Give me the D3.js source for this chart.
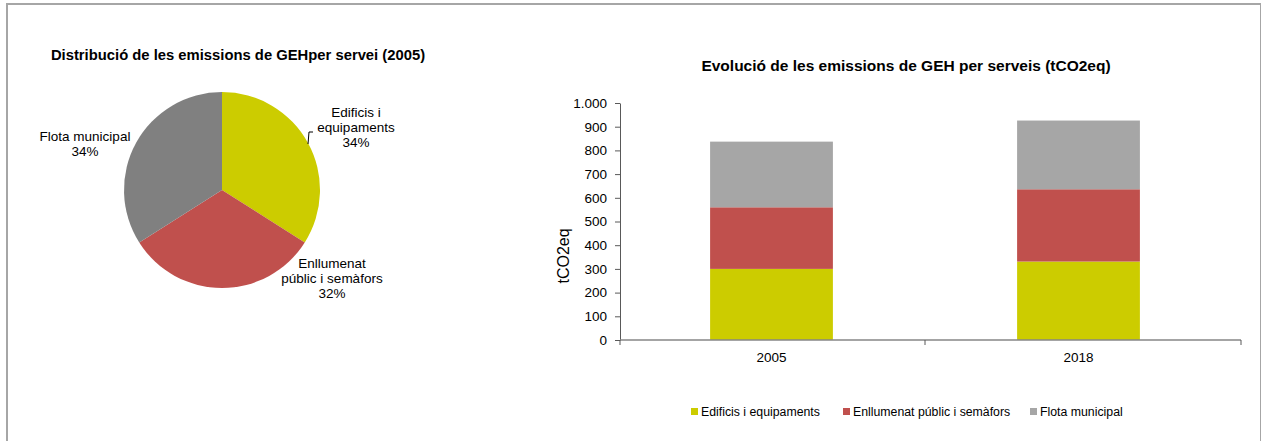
<!DOCTYPE html>
<meta charset='utf-8'>
<style>
body {
    margin: 0;
    background: #fff;
}

svg text {
    font-family: 'Liberation Sans', Arial, sans-serif;
    fill: #000;
}

.title {
    font-weight: bold;
}

.axis text {
    font-size: 13.5px;
}
</style>

<body>
    <div class='chart'></div>
    <script src='https://cdn.jsdelivr.net/npm/d3@7'></script>
    <script>
    // pie 2005
    var pieNames = ['Edificis i equipaments', 'Enllumenat públic i semàfors', 'Flota municipal'];
    var pieValues = [34, 32, 34];
    var pieColors = ['#cccc00', '#c0504d', '#808080'];

    // stacked bars
    var years = ['2005', '2018'];
    var edificis = [300, 331];
    var enllumenat = [260, 305];
    var flota = [277, 290];
    var barColors = ['#cccc00', '#c0504d', '#a6a6a6'];
    var yTicks = [0, 100, 200, 300, 400, 500, 600, 700, 800, 900, 1000];

    var width = 1261, height = 441;

    var svg = d3.select('.chart').append('svg')
        .attr('width', width)
        .attr('height', height);

    // frame
    svg.append('line').attr('x1', 7).attr('x2', 7).attr('y1', 3).attr('y2', height)
        .attr('stroke', '#a6a6a6').attr('stroke-width', 2);
    svg.append('line').attr('x1', 6).attr('x2', 1260).attr('y1', 4).attr('y2', 4)
        .attr('stroke', '#a6a6a6').attr('stroke-width', 2);
    svg.append('line').attr('x1', 1260.5).attr('x2', 1260.5).attr('y1', 3).attr('y2', height)
        .attr('stroke', '#a6a6a6').attr('stroke-width', 1);

    // ---- pie ----
    svg.append('text')
        .attr('class', 'title')
        .attr('x', 238).attr('y', 60)
        .attr('text-anchor', 'middle')
        .style('font-size', '14.8px')
        .text('Distribució de les emissions de GEHper servei (2005)');

    var pie = d3.pie().sort(null)(pieValues);
    var arc = d3.arc().innerRadius(0).outerRadius(98);

    var gp = svg.append('g').attr('transform', 'translate(222,190)');
    gp.selectAll('path')
        .data(pie)
        .enter().append('path')
        .attr('d', arc)
        .attr('fill', function(d, i) { return pieColors[i]; });

    var pieLabels = [
        {lines: ['Edificis i', 'equipaments', pieValues[0] + '%'], x: 356, y: 117},
        {lines: ['Enllumenat', 'públic i semàfors', pieValues[1] + '%'], x: 332, y: 268},
        {lines: ['Flota municipal', pieValues[2] + '%'], x: 85, y: 141}
    ];
    pieLabels.forEach(function(l) {
        var t = svg.append('text')
            .attr('text-anchor', 'middle')
            .style('font-size', '13.5px');
        l.lines.forEach(function(s, j) {
            t.append('tspan').attr('x', l.x).attr('y', l.y + j * 15).text(s);
        });
    });

    // leader line for first slice
    svg.append('path')
        .attr('d', 'M308,144L309,132L313,132')
        .attr('fill', 'none')
        .attr('stroke', '#000')
        .attr('stroke-width', 1);

    // ---- stacked bars ----
    svg.append('text')
        .attr('class', 'title')
        .attr('x', 906).attr('y', 71)
        .attr('text-anchor', 'middle')
        .style('font-size', '15.5px')
        .text('Evolució de les emissions de GEH per serveis (tCO2eq)');

    var x = d3.scaleBand().domain(years).range([618, 1232]).paddingInner(0.6).paddingOuter(0.3);
    var y = d3.scaleLinear().domain([0, 1000]).range([340, 103]);

    var rows = years.map(function(yr, i) {
        return {year: yr, a: edificis[i], b: enllumenat[i], c: flota[i]};
    });
    var stack = d3.stack().keys(['a', 'b', 'c'])(rows);

    svg.selectAll('.layer')
        .data(stack)
        .enter().append('g')
        .attr('fill', function(d, i) { return barColors[i]; })
        .selectAll('rect')
        .data(function(d) { return d; })
        .enter().append('rect')
        .attr('x', function(d) { return x(d.data.year); })
        .attr('width', x.bandwidth())
        .attr('y', function(d) { return y(d[1]); })
        .attr('height', function(d) { return y(d[0]) - y(d[1]); });

    var fmt = function(d) { return d === 1000 ? '1.000' : d; };
    svg.append('g')
        .attr('class', 'axis')
        .attr('transform', 'translate(620,0)')
        .call(d3.axisLeft(y).tickValues(yTicks).tickFormat(fmt).tickSize(5).tickSizeOuter(0).tickPadding(8))
        .call(function(g) {
            g.select('.domain').attr('stroke', '#595959');
            g.selectAll('line').attr('stroke', '#595959');
        });

    var cx = function(d) { return x(d) + x.bandwidth() / 2; };
    var xAxis = svg.append('g')
        .attr('class', 'axis')
        .attr('transform', 'translate(0,340)');
    xAxis.append('line').attr('x1', 620).attr('x2', 1241).attr('stroke', '#868686').attr('stroke-width', 1.5);
    xAxis.selectAll('.tk')
        .data([620, (cx(years[0]) + cx(years[1])) / 2, 1241])
        .enter().append('line')
        .attr('x1', function(d) { return d; }).attr('x2', function(d) { return d; })
        .attr('y1', 0).attr('y2', 5)
        .attr('stroke', '#595959');
    xAxis.selectAll('.lbl')
        .data(years)
        .enter().append('text')
        .attr('x', cx)
        .attr('y', 22)
        .attr('text-anchor', 'middle')
        .text(function(d) { return d; });

    svg.append('text')
        .attr('transform', 'translate(569,256) rotate(-90)')
        .attr('text-anchor', 'middle')
        .style('font-size', '16px')
        .text('tCO2eq');

    // legend
    var legX = [691, 843, 1030];
    var lg = svg.selectAll('.leg')
        .data(pieNames)
        .enter().append('g')
        .attr('transform', function(d, i) { return 'translate(' + legX[i] + ',408)'; });
    lg.append('rect').attr('width', 7).attr('height', 7)
        .attr('fill', function(d, i) { return barColors[i]; });
    lg.append('text').attr('x', 10).attr('y', 8)
        .style('font-size', '12.3px')
        .text(function(d) { return d; });
    </script>
